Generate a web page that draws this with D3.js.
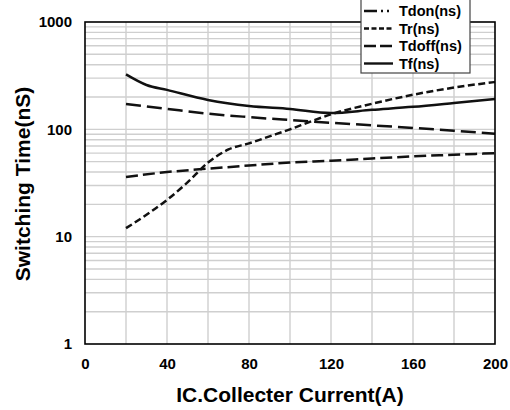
<!DOCTYPE html>
<html>
<head>
<meta charset="utf-8">
<script src="https://cdn.jsdelivr.net/npm/d3@7"></script>
<style>
  html, body { margin: 0; padding: 0; background: #fff; }
  svg { display: block; font-family: "Liberation Sans", Arial, sans-serif; font-weight: bold; }
</style>
</head>
<body>
<svg id="chart" width="510" height="410"></svg>
<script>
// Collector current (A) and switching times (ns)
const currentTdon = [20, 40, 60, 80, 100, 120, 140, 160, 180, 200];
const tdon        = [36, 40, 43, 46, 49, 51, 53.5, 56, 58, 60];

const currentTr = [20, 30, 40, 50, 60, 70, 80, 90, 100, 110, 120, 140, 160, 180, 200];
const tr        = [12, 16, 22, 32, 49, 65, 74, 86, 100, 118, 138, 173, 210, 245, 276];

const currentTdoff = [20, 40, 60, 80, 100, 120, 140, 160, 180, 200];
const tdoff        = [172, 155, 140, 130, 122, 115, 109, 103, 97, 91];

const currentTf = [20, 30, 40, 60, 80, 100, 120, 140, 160, 180, 200];
const tf        = [325, 259, 233, 188, 165, 155, 142, 152, 162, 176, 192];

const seriesNames = ["Tdon(ns)", "Tr(ns)", "Tdoff(ns)", "Tf(ns)"];
const xTicks = [0, 40, 80, 120, 160, 200];
const yTicks = [1, 10, 100, 1000];

const series = [
  { name: seriesNames[0], x: currentTdon,  y: tdon },
  { name: seriesNames[1], x: currentTr,    y: tr },
  { name: seriesNames[2], x: currentTdoff, y: tdoff },
  { name: seriesNames[3], x: currentTf,    y: tf }
];

// Line styles: dash used on the curve, dash used in the legend sample
const lineDash   = ["12,5", "7,3.5", "15,6", null];
const legendDash = ["13,4,2,4,2,4", "5,2.5", "12,4", null];

const margin = { left: 85, top: 22, right: 15, bottom: 66 };
const W = 510, H = 410;
const svg = d3.select("#chart");

const x = d3.scaleLinear().domain([0, 200]).range([margin.left, W - margin.right]);
const y = d3.scaleLog().domain([1, 1000]).range([H - margin.bottom, margin.top]);

// Grid: vertical every 20 A, horizontal at every 1..9 of each decade
const grid = svg.append("g").attr("stroke", "#cfcfcf").attr("stroke-width", 1.4);
grid.selectAll("line.v").data(d3.range(20, 200, 20)).join("line")
  .attr("x1", d => x(d)).attr("x2", d => x(d))
  .attr("y1", y(1)).attr("y2", y(1000));
const minorY = [];
[1, 10, 100].forEach(dec => { for (let k = 2; k <= 10; k++) minorY.push(dec * k); });
grid.selectAll("line.h").data(minorY.filter(v => v < 1000)).join("line")
  .attr("x1", x(0)).attr("x2", x(200))
  .attr("y1", d => y(d)).attr("y2", d => y(d));

// Curves
const line = d3.line().x(d => x(d[0])).y(d => y(d[1])).curve(d3.curveMonotoneX);
series.forEach((s, i) => {
  svg.append("path")
    .datum(s.x.map((v, j) => [v, s.y[j]]))
    .attr("fill", "none")
    .attr("stroke", "#111")
    .attr("stroke-width", 2.5)
    .attr("stroke-dasharray", lineDash[i])
    .attr("d", line);
});

// Plot frame
svg.append("rect")
  .attr("x", x(0)).attr("y", y(1000))
  .attr("width", x(200) - x(0)).attr("height", y(1) - y(1000))
  .attr("fill", "none").attr("stroke", "#000").attr("stroke-width", 1.6);

// Axes
const xAxis = svg.append("g")
  .attr("transform", `translate(0,${y(1)})`)
  .call(d3.axisBottom(x).tickValues(xTicks).tickSize(0).tickPadding(14).tickFormat(d3.format("d")));
xAxis.select(".domain").remove();
xAxis.selectAll("text").attr("font-size", 15).attr("font-family", "Liberation Sans, Arial, sans-serif").attr("font-weight", "bold").attr("fill", "#000");

const yAxis = svg.append("g")
  .attr("transform", `translate(${x(0)},0)`)
  .call(d3.axisLeft(y).tickValues(yTicks).tickSize(0).tickPadding(13).tickFormat(d3.format("d")));
yAxis.select(".domain").remove();
yAxis.selectAll("text").attr("font-size", 15).attr("font-family", "Liberation Sans, Arial, sans-serif").attr("font-weight", "bold").attr("fill", "#000");

// Axis titles
svg.append("text")
  .attr("x", 290).attr("y", 402)
  .attr("text-anchor", "middle")
  .attr("font-size", 21)
  .text("IC.Collecter Current(A)");

svg.append("text")
  .attr("transform", "translate(30,184) rotate(-90)")
  .attr("text-anchor", "middle")
  .attr("font-size", 21)
  .text("Switching Time(nS)");

// Legend
const lg = svg.append("g");
lg.append("rect")
  .attr("x", 361).attr("y", -4).attr("width", 109).attr("height", 77)
  .attr("fill", "#fff").attr("stroke", "#444").attr("stroke-width", 1.2);
series.forEach((s, i) => {
  const yy = 11 + i * 17.5;
  lg.append("line")
    .attr("x1", 364).attr("x2", 393).attr("y1", yy).attr("y2", yy)
    .attr("stroke", "#111").attr("stroke-width", 2.4)
    .attr("stroke-dasharray", legendDash[i]);
  lg.append("text")
    .attr("x", 399).attr("y", yy + 5)
    .attr("font-size", 14.5)
    .text(s.name);
});
</script>
</body>
</html>
